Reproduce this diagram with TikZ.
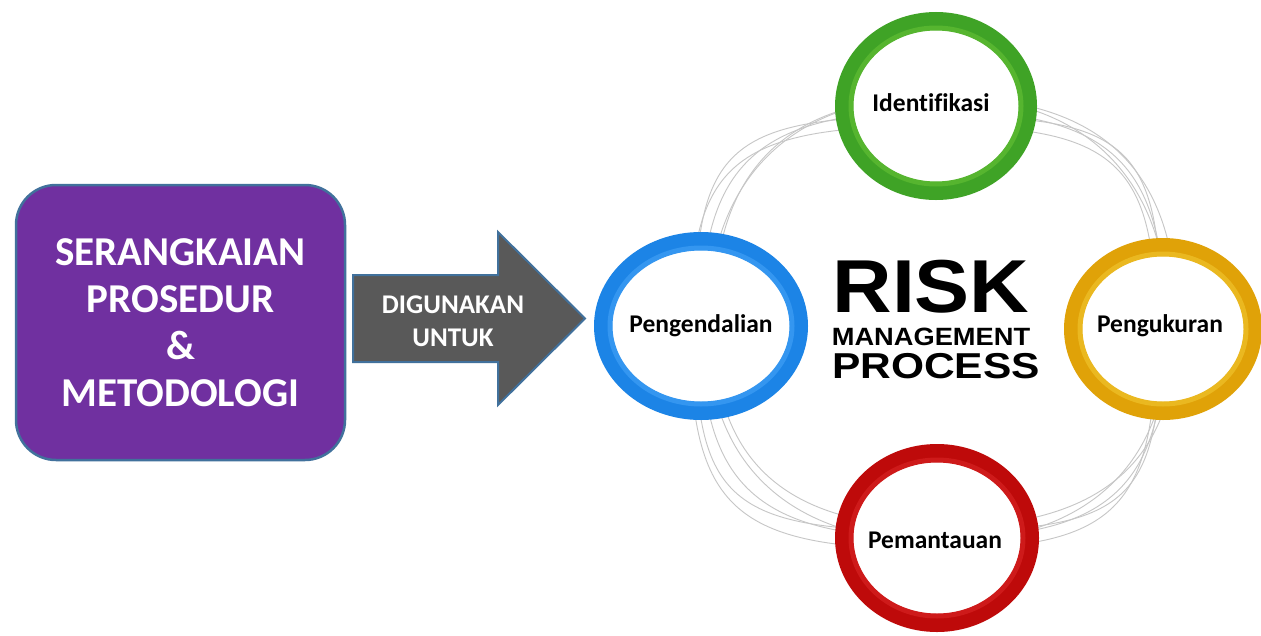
\documentclass[tikz,border=0pt]{standalone}
\usepackage{fontspec}
\setmainfont{Carlito}[Ligatures=NoCommon]
\newfontfamily\helv{Liberation Sans}
\usetikzlibrary{shapes.geometric}
\definecolor{purp}{HTML}{7030A0}
\definecolor{edgeblue}{HTML}{41719C}
\definecolor{dgray}{HTML}{595959}
\definecolor{rgreen}{HTML}{3FA326}
\definecolor{lgreen}{HTML}{56B52F}
\definecolor{rblue}{HTML}{1C84E6}
\definecolor{lblue}{HTML}{3496F0}
\definecolor{ryellow}{HTML}{E0A208}
\definecolor{lyellow}{HTML}{EAB820}
\definecolor{rred}{HTML}{BE0A0A}
\definecolor{lred}{HTML}{CE1A1A}
\definecolor{wire}{HTML}{C6C6C6}
\begin{document}
\begin{tikzpicture}[x=1pt,y=-1pt,
  ring/.style={ellipse, draw=#1, line width=18pt, fill=white, inner sep=0pt},
  ringlabel/.style={font=\bfseries\fontsize{25.5}{30}\selectfont, text=black},
  shine/.style={draw=#1, line width=5pt},
  wireloop/.style={draw=wire, line width=0.9pt},
  boxstyle/.style={draw=edgeblue, line width=2.5pt, fill=purp, rounded corners=40pt,
    text=white, align=center, font=\bfseries\fontsize{41}{47}\selectfont},
  arrowbody/.style={draw=edgeblue, line width=2pt, fill=dgray, line join=miter},
  arrowtext/.style={text=white, align=center, font=\bfseries\fontsize{27}{33}\selectfont},
  bigtitle/.style={anchor=base, text=black, inner sep=0pt}]
\useasboundingbox (0,0) rectangle (1261,635);
\fill[white] (0,0) rectangle (1261,635);

% wire loops behind the rings (squarish closed curves)
\foreach \dx/\dy/\rt/\rl/\rb/\rr/\k in {
   0/0/215/236/212/228/0.76,
   4/-3/226/228/204/236/0.68,
  -3/4/204/244/219/222/0.82,
   2/2/232/232/214/230/0.64,
  -2/-2/208/240/207/226/0.86}
{
  \pgfmathsetmacro{\cx}{937+\dx}
  \pgfmathsetmacro{\cy}{326+\dy}
  \draw[wireloop]
    (\cx,{\cy-\rt})
      .. controls ({\cx-\k*\rl},{\cy-\rt}) and ({\cx-\rl},{\cy-\k*\rt}) .. ({\cx-\rl},\cy)
      .. controls ({\cx-\rl},{\cy+\k*\rb}) and ({\cx-\k*\rl},{\cy+\rb}) .. (\cx,{\cy+\rb})
      .. controls ({\cx+\k*\rr},{\cy+\rb}) and ({\cx+\rr},{\cy+\k*\rb}) .. ({\cx+\rr},\cy)
      .. controls ({\cx+\rr},{\cy-\k*\rt}) and ({\cx+\k*\rr},{\cy-\rt}) .. (\cx,{\cy-\rt});
}

% left box
\node[boxstyle, minimum width=329pt, minimum height=275pt] (box) at (180.5,322.5)
  {SERANGKAIAN\\PROSEDUR\\\&\\METODOLOGI};

% block arrow
\draw[arrowbody] (353,275) -- (498,275) -- (498,232) -- (585,318.5)
  -- (498,405) -- (498,362) -- (353,362) -- cycle;
\node[arrowtext] (use) at (453,321) {DIGUNAKAN\\UNTUK};

% rings
\node[ring=rgreen, minimum width=184pt, minimum height=170pt] (ident) at (936,106) {};
\draw[shine=lgreen] (ident.center) ellipse [x radius=85, y radius=78];
\node[ringlabel] (identtxt) at (931,103) {Identifikasi};

\node[ring=rblue, minimum width=196pt, minimum height=170pt] (kendali) at (701,326) {};
\draw[shine=lblue] (kendali.center) ellipse [x radius=91, y radius=78];
\node[ringlabel] (kendalitxt) at (kendali.center) {Pengendalian};

\node[ring=ryellow, minimum width=180pt, minimum height=164pt] (ukur) at (1163,329) {};
\draw[shine=lyellow] (ukur.center) ellipse [x radius=83, y radius=75];
\node[ringlabel] (ukurtxt) at (1160,326) {Pengukuran};

\node[ring=rred, minimum width=186pt, minimum height=170pt] (pantau) at (937,538) {};
\draw[shine=lred] (pantau.center) ellipse [x radius=86, y radius=78];
\node[ringlabel] (pantautxt) at (935,540) {Pemantauan};

% centre title
\node[bigtitle, font=\helv\bfseries\fontsize{75}{75}\selectfont] (risk) at (931,312) {\scalebox{1.1}[1]{RISK}};
\node[bigtitle, font=\helv\bfseries\fontsize{25}{25}\selectfont] (mgmt) at (931,345) {\scalebox{1.09}[1]{MANAGEMENT}};
\node[bigtitle, font=\helv\bfseries\fontsize{36}{36}\selectfont] (proc) at (936,378) {\scalebox{1.18}[1]{PROCESS}};
\end{tikzpicture}
\end{document}
